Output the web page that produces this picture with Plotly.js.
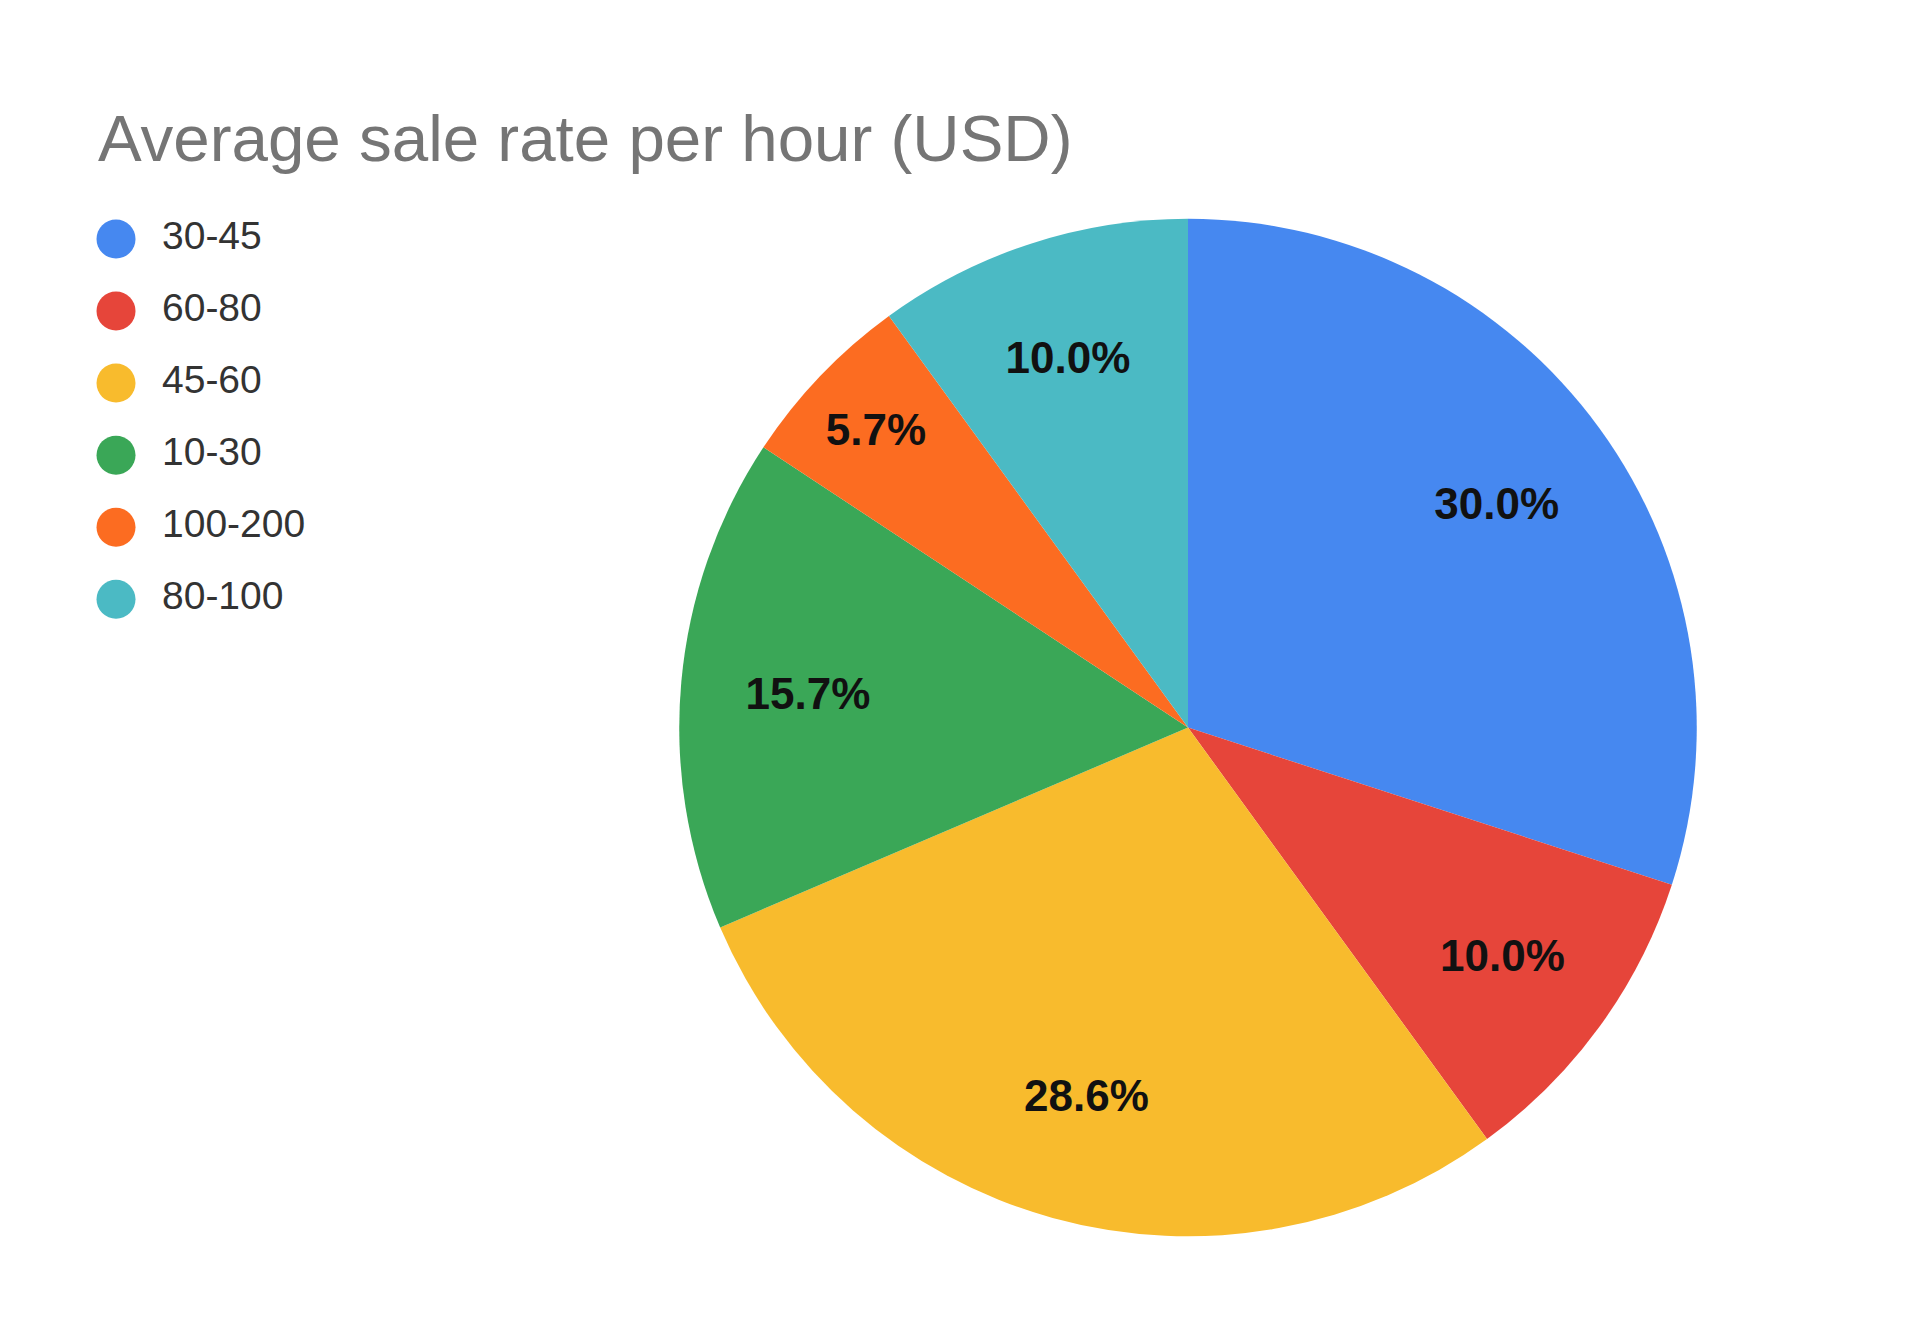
<!DOCTYPE html>
<html>
<head>
<meta charset="utf-8">
<script src="https://cdn.plot.ly/plotly-3.0.1.min.js"></script>
<style>html,body{margin:0;padding:0;background:#fff;}#chart{width:1920px;height:1318px;}</style>
</head>
<body>
<div id="chart"></div>
<script>
// Data
const categories = ["30-45", "60-80", "45-60", "10-30", "100-200", "80-100"];
const counts = [21, 7, 20, 11, 4, 7];
const colors = ["#4688F0", "#E6453A", "#F8BB2D", "#3AA757", "#FC6C21", "#4BBAC4"];
const titleText = "Average sale rate per hour (USD)";

const pieDomain = {x: [0.3531, 0.8844], y: [0.062, 0.834]};

// Main pie (filled slices)
const pieFill = {
  type: "pie",
  values: counts,
  labels: categories,
  sort: false,
  direction: "clockwise",
  rotation: 0,
  marker: {colors: colors, line: {width: 0}},
  textinfo: "none",
  domain: pieDomain,
  showlegend: false,
  hoverinfo: "label+percent"
};

// Overlay ring carrying the percentage labels
const pieText = {
  type: "pie",
  values: counts,
  labels: categories,
  sort: false,
  direction: "clockwise",
  rotation: 0,
  hole: 0.5,
  marker: {colors: categories.map(() => "rgba(0,0,0,0)"), line: {width: 0}},
  textinfo: "percent",
  texttemplate: "%{percent:.1%}",
  textposition: "inside",
  insidetextorientation: "horizontal",
  insidetextfont: {family: "Liberation Sans, Arial, sans-serif", size: 44, color: "#111111", weight: "bold"},
  domain: pieDomain,
  showlegend: false,
  hoverinfo: "skip"
};

// Custom legend: circle markers
const legendMarkers = {
  type: "scatter",
  mode: "markers",
  x: categories.map(() => 0),
  y: categories,
  marker: {size: 39, color: colors, line: {width: 0}},
  hoverinfo: "skip",
  showlegend: false,
  xaxis: "x",
  yaxis: "y"
};
const legendText = {
  type: "scatter",
  mode: "text",
  x: categories.map(() => 1),
  y: categories,
  text: categories,
  textposition: "middle right",
  textfont: {family: "Liberation Sans, Arial, sans-serif", size: 39, color: "#333333"},
  hoverinfo: "skip",
  showlegend: false,
  xaxis: "x",
  yaxis: "y"
};

const layout = {
  width: 1920,
  height: 1318,
  paper_bgcolor: "#ffffff",
  plot_bgcolor: "rgba(0,0,0,0)",
  margin: {l: 0, r: 0, t: 0, b: 0},
  showlegend: false,
  title: {
    text: titleText,
    font: {family: "Liberation Sans, Arial, sans-serif", size: 65.5, color: "#757575"},
    x: 98 / 1920,
    xanchor: "left",
    xref: "container",
    y: 1 - 138 / 1318,
    yref: "container",
    yanchor: "middle"
  },
  xaxis: {
    domain: [0, 0.2],
    range: [-2.522, 5.826],
    visible: false,
    fixedrange: true
  },
  yaxis: {
    domain: [0.518, 0.846],
    type: "category",
    categoryorder: "array",
    categoryarray: categories,
    range: [5.5, -0.5],
    visible: false,
    fixedrange: true
  }
};

Plotly.newPlot("chart", [pieFill, pieText, legendMarkers, legendText], layout, {displayModeBar: false, staticPlot: true});
</script>
</body>
</html>
